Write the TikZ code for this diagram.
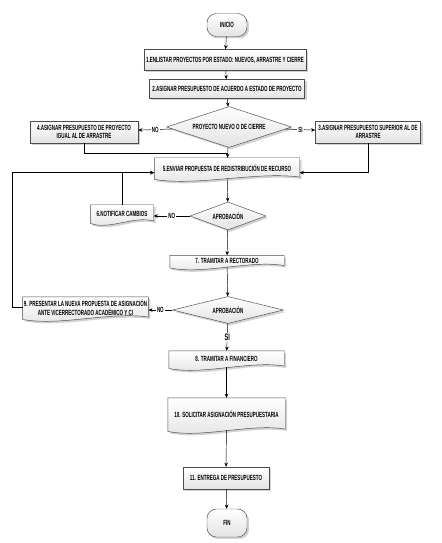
\documentclass[tikz,border=0pt]{standalone}
\usepackage{fontspec}
\setmainfont{Liberation Sans}[FakeStretch=0.6]
\usetikzlibrary{shapes.geometric,shadows,backgrounds,calc,arrows.meta}
\newcommand{\docpath}[1]{(#1.north west) -- (#1.north east) -- ([yshift=1pt]#1.south east)
  .. controls ($(#1.south west)!.7!(#1.south east)+(0,6pt)$) and ($(#1.south west)!.3!(#1.south east)+(0,-7pt)$) .. ([yshift=-1pt]#1.south west) -- cycle}
\begin{document}
\begin{tikzpicture}[x=0.03cm,y=-0.03cm,
  txt/.style={font=\fontsize{6.4}{7.4}\selectfont\bfseries,align=center,inner sep=1pt},
  look/.style={draw=gray!60!black,top color=white,bottom color=gray!22,
    drop shadow={shadow xshift=1.7pt,shadow yshift=-1.7pt,fill=gray!70}},
  box/.style={txt,look},
  doc/.style={txt},
  dec/.style={txt,look,diamond,aspect=3,inner sep=0pt},
  term/.style={box,rounded corners=8pt},
  line/.style={-{Stealth[length=3.5pt,width=3pt]},black},
  lbl/.style={fill=white,inner sep=1pt,font=\fontsize{6.4}{7.4}\selectfont\bfseries}]
\useasboundingbox (0,0) rectangle (441,543);
%%%%%%%%%%%%%%%% nodes
\node[term,minimum width=1.2cm,minimum height=0.69cm] (start) at (227,25) {INICIO};
\node[box,minimum width=4.86cm,minimum height=0.63cm] (p1) at (225,60) {1.ENLISTAR PROYECTOS POR ESTADO: NUEVOS, ARRASTRE Y CIERRE};
\node[box,minimum width=4.65cm,minimum height=0.57cm] (p2) at (227,89) {2.ASIGNAR PRESUPUESTO DE ACUERDO A ESTADO DE PROYECTO};
\node[dec,minimum width=3.75cm,minimum height=1.23cm] (d1) at (229,127) {PROYECTO NUEVO O DE CIERRE};
\node[box,minimum width=3.24cm,minimum height=0.66cm] (p4) at (84,132) {4.ASIGNAR PRESUPUESTO DE PROYECTO\\IGUAL AL DE ARRASTRE};
\node[box,minimum width=3.15cm,minimum height=0.66cm] (p3) at (368,132) {3.ASIGNAR PRESUPUESTO SUPERIOR AL DE\\ARRASTRE};
\node[doc,minimum width=4.35cm,minimum height=0.6cm] (p5) at (227,168) {5.ENVIAR PROPUESTA DE REDISTRIBUCIÓN DE RECURSO};
\node[dec,minimum width=2.28cm,minimum height=0.84cm] (d2) at (228,216) {APROBACIÓN};
\node[doc,minimum width=1.89cm,minimum height=0.51cm] (p6) at (122,213.5) {6.NOTIFICAR CAMBIOS};
\node[doc,minimum width=3.42cm,minimum height=0.33cm] (p7) at (227,261) {7. TRAMITAR A RECTORADO};
\node[dec,minimum width=3.33cm,minimum height=0.81cm] (d3) at (228,310) {APROBACIÓN};
\node[doc,minimum width=3.75cm,minimum height=0.63cm] (p9) at (85.5,307.5) {9. PRESENTAR LA NUEVA PROPUESTA DE ASIGNACIÓN\\ANTE VICERRECTORADO ACADÉMICO Y CI};
\node[doc,minimum width=3.45cm,minimum height=0.48cm] (p8) at (226.5,359) {8. TRAMITAR A FINANCIERO};
\node[doc,minimum width=3.51cm,minimum height=0.96cm] (p10) at (226.5,414) {10. SOLICITAR ASIGNACIÓN PRESUPUESTARIA};
\node[box,minimum width=2.58cm,minimum height=0.66cm] (p11) at (226,478) {11. ENTREGA DE PRESUPUESTO};
\node[term,minimum width=1.2cm,minimum height=0.84cm] (fin) at (227,523) {FIN};
%%%%%%%%%%%%%%%% document shapes behind the text
\begin{scope}[on background layer]
\foreach \n in {p5,p6,p7,p9,p8,p10}
  \draw[look] \docpath{\n};
\end{scope}
%%%%%%%%%%%%%%%% connectors
\coordinate (m1) at (228,153);
\draw[line] (start) -- (p1);
\draw[line] (p1) -- (p2);
\draw[line] (p2) -- (d1);
\draw[line] (d1) -- node[lbl]{NO} (p4);
\draw[line] (d1) -- node[lbl]{SI} (p3);
\draw[line] (d1) -- (p5);
\draw (p4.south) |- (m1);
\draw[line] (p3.south) |- ([yshift=-4pt]p5.east);
\draw[line] (p5) -- (d2);
\draw[line] (d2.west) -- node[lbl]{NO} (d2.west -| p6.east);
\draw[line] (p6.north) |- ([yshift=-4pt]p5.west);
\draw[line] (d2) -- (p7);
\draw[line] (p7) -- (d3);
\draw[line] (d3.west) -- node[lbl]{NO} (d3.west -| p9.east);
\draw[line] (p9.west) -- ++(-10,0) |- ([yshift=-4pt]p5.west);
\draw[line] (d3) -- node[lbl,font=\fontsize{8}{9}\selectfont\bfseries]{SI} (p8);
\draw[line] (p8) -- (p10);
\draw[line] (p10) -- (p11);
\draw[line] (p11) -- (fin);
\end{tikzpicture}
\end{document}
